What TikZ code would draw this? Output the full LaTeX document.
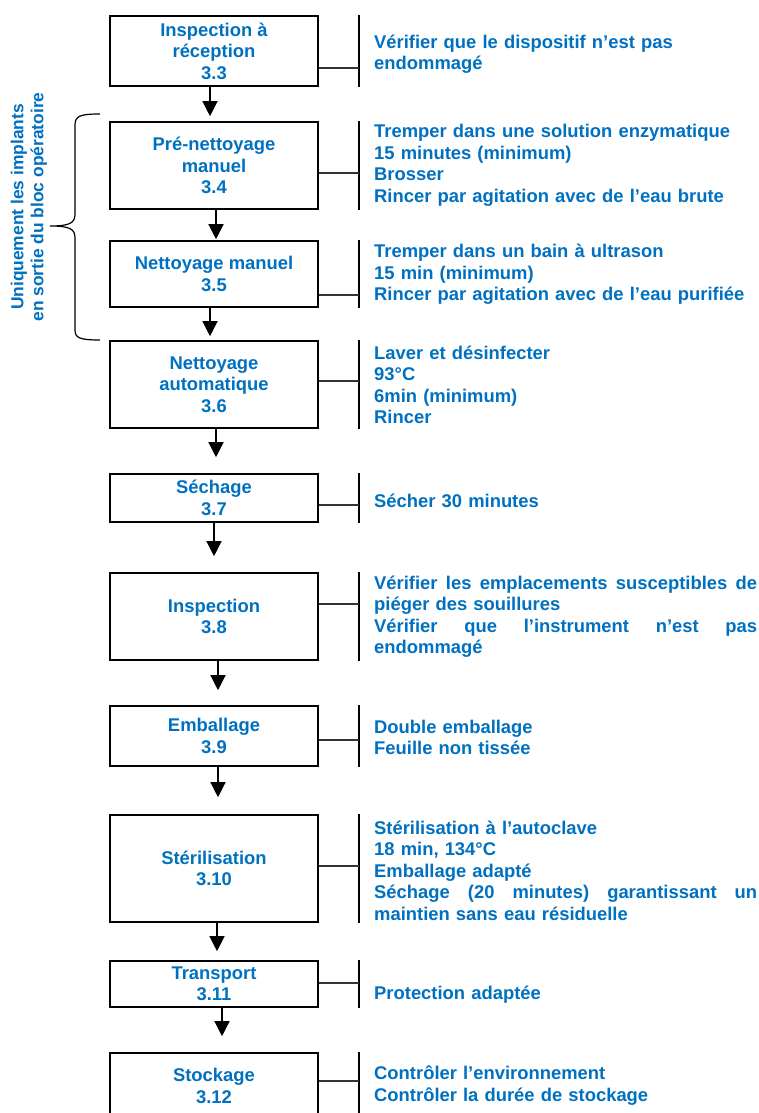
\documentclass[tikz,border=0pt]{standalone}
\usepackage{fontspec}
\setmainfont{Liberation Sans}
\usetikzlibrary{arrows.meta}

\definecolor{docblue}{RGB}{0,112,192}
\tikzstyle{stepbox}=[draw,line width=1.6pt,minimum width=208pt,inner sep=0pt,align=center,text=docblue,font=\bfseries\fontsize{18.4}{21.5}\selectfont]
\tikzstyle{note}=[anchor=west,inner sep=0pt,text width=384pt,align=left,text=docblue,font=\bfseries\fontsize{18.4}{21.5}\selectfont]
\tikzstyle{flow}=[draw,line width=1.3pt,-{Triangle[length=15pt,width=15pt]}]
\tikzstyle{bar}=[draw,line width=1.4pt]
\tikzstyle{tick}=[draw,line width=1.2pt,black!80]
\newcommand{\fullline}[1]{\leavevmode\hbox to 383pt{#1}}

\begin{document}
\begin{tikzpicture}[x=1pt,y=-1pt]
    \clip (0,0) rectangle (758,1113);
    \coordinate (barx) at (359,0);

    % the steps
    \node[stepbox,minimum height=70pt] (insp) at (214,51) {Inspection à\\réception\\3.3};
    \node[stepbox,minimum height=87pt] (prenet) at (214,165.5) {Pré-nettoyage\\manuel\\3.4};
    \node[stepbox,minimum height=66pt] (netman) at (214,274) {Nettoyage manuel\\3.5};
    \node[stepbox,minimum height=87pt] (netauto) at (214,384.5) {Nettoyage\\automatique\\3.6};
    \node[stepbox,minimum height=48pt] (sechage) at (214,498) {Séchage\\3.7};
    \node[stepbox,minimum height=87pt] (inspect) at (214,616.5) {Inspection\\3.8};
    \node[stepbox,minimum height=60pt] (emball) at (214,736) {Emballage\\3.9};
    \node[stepbox,minimum height=107pt] (steril) at (214,868.5) {Stérilisation\\3.10};
    \node[stepbox,minimum height=46pt] (transp) at (214,984) {Transport\\3.11};
    \node[stepbox,minimum height=87pt] (stock) at (214,1096.5) {Stockage\\3.12\\~};

    % what is done at each step
    \node[note] (n-insp) at (374,54) {Vérifier que le dispositif n’est pas\\endommagé};
    \node[note] (n-prenet) at (374,165.5) {Tremper dans une solution enzymatique\\15 minutes (minimum)\\Brosser\\Rincer par agitation avec de l’eau brute};
    \node[note] (n-netman) at (374,274.5) {Tremper dans un bain à ultrason\\15 min (minimum)\\Rincer par agitation avec de l’eau purifiée};
    \node[note] (n-netauto) at (374,385) {Laver et désinfecter\\93°C\\6min (minimum)\\Rincer};
    \node[note] (n-sechage) at (374,501) {Sécher 30 minutes};
    \node[note] (n-inspect) at (374,616.5) {\fullline{Vérifier\hfill les\hfill emplacements\hfill susceptibles\hfill de}\\piéger des souillures\\\fullline{Vérifier\hfill que\hfill l’instrument\hfill n’est\hfill pas}\\endommagé};
    \node[note] (n-emball) at (374,737.5) {Double emballage\\Feuille non tissée};
    \node[note] (n-steril) at (374,870.5) {Stérilisation à l’autoclave\\18 min, 134°C\\Emballage adapté\\\fullline{Séchage\hfill (20\hfill minutes)\hfill garantissant\hfill un}\\maintien sans eau résiduelle};
    \node[note] (n-transp) at (374,995) {Protection adaptée};
    \node[note] (n-stock) at (374,1085.5) {Contrôler l’environnement\\Contrôler la durée de stockage};

    % bars and ticks
    \foreach \stage/\dy in {insp/-17,prenet/-7.5,netman/-21,netauto/3.5,sechage/-7,inspect/12.5,emball/-4,steril/2.5,transp/1,stock/15.5}
    {
        \draw[bar] (\stage.north -| barx) -- (\stage.south -| barx);
        \draw[tick] ([yshift=\dy pt]\stage.east) -- ([yshift=\dy pt]\stage.east -| barx);
    }

    % arrows between the steps
    \foreach \src/\dst/\dx/\gap in {insp/prenet/-4/5,prenet/netman/2/1,netman/netauto/-4/4,netauto/sechage/2/16,sechage/inspect/0/16,inspect/emball/4/15,emball/steril/4/17,steril/transp/3/9,transp/stock/8/16}
        \draw[flow] ([xshift=\dx pt]\src.south) -- ([xshift=\dx pt,yshift=\gap pt]\dst.north);

    % brace for the implants
    \draw[line width=1.2pt] (100,114) .. controls (80,114) and (75,116) .. (75,125) -- (75,214)
        .. controls (75,223) and (70,226) .. (50,226) .. controls (70,226) and (75,229) .. (75,238)
        -- (75,330) .. controls (75,338) and (80,340) .. (100,340);
    \node[rotate=90,align=center,inner sep=0pt,text=docblue,font=\bfseries\fontsize{17.4}{20}\selectfont] (implants) at (29,207) {Uniquement les implants\\en sortie du bloc opératoire};
\end{tikzpicture}
\end{document}
